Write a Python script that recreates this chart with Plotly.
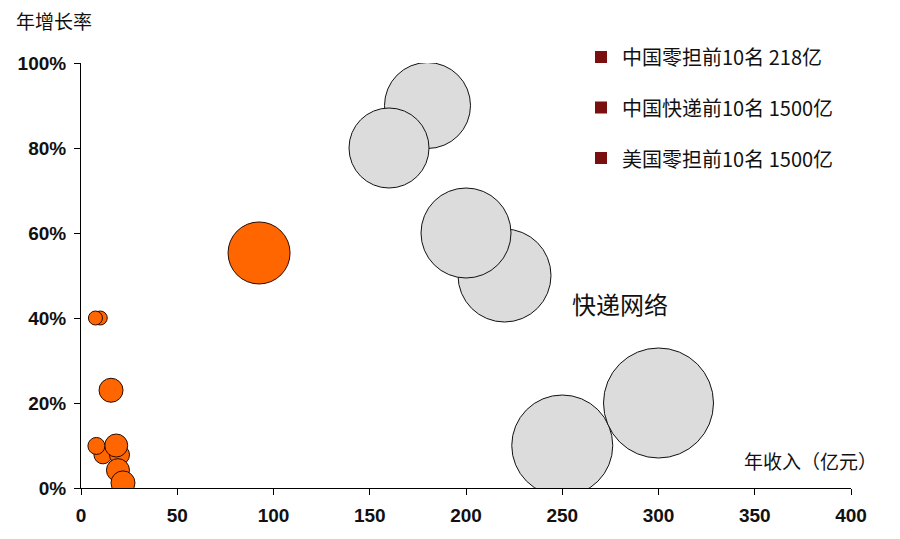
import plotly.graph_objects as go

# ---- data ----
# 快递网络 (gray bubbles): revenue (亿元), growth rate, bubble size
express_x = [180, 160, 220, 200, 250, 300]
express_y = [0.90, 0.80, 0.50, 0.60, 0.10, 0.20]
express_size = [86, 80, 93, 90, 101, 110]

# 零担 (orange bubbles)
ltl_x = [92.5, 10, 7.5, 15.6, 11.4, 20, 18.3, 8, 19.2, 21.8]
ltl_y = [0.553, 0.40, 0.40, 0.23, 0.078, 0.078, 0.10, 0.099, 0.042, 0.012]
ltl_size = [62, 14, 14, 24, 18, 20, 23, 17, 23, 24]

x_ticks = [0, 50, 100, 150, 200, 250, 300, 350, 400]
y_ticks = [0, 0.2, 0.4, 0.6, 0.8, 1.0]
y_ticklabels = ["0%", "20%", "40%", "60%", "80%", "100%"]

legend_labels = ["中国零担前10名 218亿", "中国快递前10名 1500亿", "美国零担前10名 1500亿"]

# ---- layout helpers (reference pixel -> paper) ----
OFF = 8  # page body margin
W, H = 900 - OFF, 539 - OFF
L, T = 81 - OFF, 63 - OFF
PW, PH = 770, 425
R = W - L - PW
B = H - T - PH


def px(xp):
    return (xp - 81) / PW


def py(yp):
    return (488 - yp) / PH


CJK = "Noto Sans CJK SC"
NUM = "Liberation Sans"

fig = go.Figure()
fig.add_trace(go.Scatter(
    x=express_x, y=express_y, mode="markers",
    marker=dict(size=express_size, sizemode="diameter", color="#DCDCDC",
                line=dict(color="#111111", width=1), opacity=1),
    showlegend=False, hoverinfo="x+y"))
fig.add_trace(go.Scatter(
    x=ltl_x, y=ltl_y, mode="markers",
    marker=dict(size=ltl_size, sizemode="diameter", color="#FF6600",
                line=dict(color="#2A0A00", width=1), opacity=1),
    showlegend=False, hoverinfo="x+y"))

annotations = [
    dict(text="年增长率", x=px(14), y=py(20), xref="paper", yref="paper",
         xanchor="left", yanchor="middle", showarrow=False,
         font=dict(family=CJK, size=19, color="#111111")),
    dict(text="年收入（亿元）", x=px(742), y=py(460), xref="paper", yref="paper",
         xanchor="left", yanchor="middle", showarrow=False,
         font=dict(family=CJK, size=19, color="#111111")),
    dict(text="快递网络", x=px(620), y=py(303), xref="paper", yref="paper",
         xanchor="center", yanchor="middle", showarrow=False,
         font=dict(family=CJK, size=24, color="#111111")),
]
shapes = []
for i, lab in enumerate(legend_labels):
    cy = 57 + 50.5 * i
    annotations.append(dict(text=lab, x=px(620), y=py(cy), xref="paper", yref="paper",
                            xanchor="left", yanchor="middle", showarrow=False,
                            font=dict(family=CJK, size=20, color="#111111")))
    shapes.append(dict(type="rect", xref="paper", yref="paper",
                       x0=px(595), x1=px(607), y0=py(cy + 6), y1=py(cy - 6),
                       fillcolor="#7A0F0F", line=dict(width=0)))

fig.update_layout(
    width=W, height=H, autosize=False,
    margin=dict(l=L, r=R, t=T, b=B, pad=0),
    paper_bgcolor="white", plot_bgcolor="white",
    annotations=annotations, shapes=shapes,
    xaxis=dict(range=[0, 400], tickvals=x_ticks, ticks="outside", ticklen=6,
               tickcolor="black", showline=True, linecolor="black", linewidth=1,
               showgrid=False, zeroline=False, ticklabelstandoff=4, automargin=False,
               tickfont=dict(family=NUM, size=19, color="#111111", weight="bold")),
    yaxis=dict(range=[0, 1], tickvals=y_ticks, ticktext=y_ticklabels, ticks="outside",
               ticklen=6, tickcolor="black", showline=True, linecolor="black",
               linewidth=1, showgrid=False, zeroline=False, ticklabelstandoff=4,
               automargin=False,
               tickfont=dict(family=NUM, size=19, color="#111111", weight="bold")),
)

fig.write_html("out.html")
